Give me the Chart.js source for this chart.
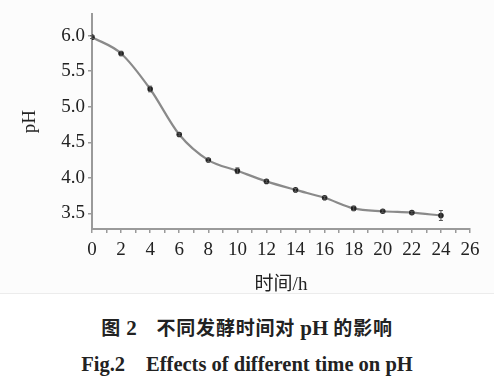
<!DOCTYPE html>
<html><head><meta charset="utf-8">
<script src="https://cdn.jsdelivr.net/npm/chart.js@4.4.1/dist/chart.umd.min.js"></script>
<style>
html,body{margin:0;padding:0;background:#fff;}
#wrap{position:relative;width:494px;height:378px;overflow:hidden;}
#top{position:absolute;left:0;top:0;width:494px;height:293px;background:#fcfcfc;border-bottom:1px solid #ececec;}
#c{position:absolute;left:0;top:0;}
.cap{position:absolute;left:0;width:494px;text-align:center;color:#222;font-weight:bold;white-space:pre;}
#cap1{top:313px;font-size:19px;letter-spacing:0.8px;font-family:"Noto Sans CJK SC","Liberation Serif",serif;}
#cap1 .l{font-family:"Liberation Serif",serif;font-size:21px;letter-spacing:0;}
#cap2{top:350px;font-size:20.5px;font-family:"Liberation Serif",serif;}
</style></head>
<body><div id="wrap"><div id="top"></div><canvas id="c" width="494" height="300"></canvas>
<div id="cap1" class="cap">图 <span class="l">2</span>　不同发酵时间对 <span class="l">pH</span> 的影响</div>
<div id="cap2" class="cap">Fig.2　Effects of different time on pH</div>
</div>
<script>
const timeH = [0, 2, 4, 6, 8, 10, 12, 14, 16, 18, 20, 22, 24];
const phValues = [5.98, 5.75, 5.25, 4.61, 4.25, 4.10, 3.95, 3.83, 3.72, 3.57, 3.53, 3.51, 3.47];
const phErrors = [0.02, 0.03, 0.04, 0.02, 0.02, 0.04, 0.02, 0.02, 0.02, 0.03, 0.02, 0.02, 0.07];
const yTickValues = [3.5, 4.0, 4.5, 5.0, 5.5, 6.0];
const xLabelValues = [0,2,4,6,8,10,12,14,16,18,20,22,24,26];
const xTitle = '时间/h';
const yTitle = 'pH';

const serif = '"Liberation Serif", "Times New Roman", serif';

const errorBars = {
  id: 'errorBars',
  afterDatasetsDraw(chart) {
    const ctx = chart.ctx, xs = chart.scales.x, ys = chart.scales.y;
    ctx.save();
    ctx.strokeStyle = '#555';
    ctx.lineWidth = 1;
    timeH.forEach((t, i) => {
      const px = xs.getPixelForValue(t);
      const y1 = ys.getPixelForValue(phValues[i] + phErrors[i]);
      const y2 = ys.getPixelForValue(phValues[i] - phErrors[i]);
      ctx.beginPath();
      ctx.moveTo(px, y1); ctx.lineTo(px, y2);
      ctx.moveTo(px - 2, y1); ctx.lineTo(px + 2, y1);
      ctx.moveTo(px - 2, y2); ctx.lineTo(px + 2, y2);
      ctx.stroke();
    });
    ctx.restore();
  }
};

new Chart(document.getElementById('c'), {
  type: 'line',
  data: {
    datasets: [{
      data: timeH.map((t, i) => ({x: t, y: phValues[i]})),
      borderColor: '#8a8a8a',
      borderWidth: 2.2,
      cubicInterpolationMode: 'monotone',
      pointRadius: 2.8,
      pointBackgroundColor: '#222',
      pointBorderColor: '#222',
      pointBorderWidth: 0,
      fill: false
    }]
  },
  options: {
    responsive: false,
    animation: false,
    devicePixelRatio: 1,
    layout: {padding: {top: 8, right: 24, left: 0, bottom: 0}},
    plugins: {legend: {display: false}, tooltip: {enabled: false}},
    scales: {
      x: {
        type: 'linear', min: 0, max: 26,
        afterBuildTicks: s => { s.ticks = Array.from({length: 27}, (_, i) => ({value: i})); },
        afterFit: s => { s.height = 71; },
        ticks: {
          autoSkip: false, maxRotation: 0, padding: 6, color: '#222',
          font: {family: serif, size: 19},
          callback: v => xLabelValues.includes(v) ? String(v) : ''
        },
        grid: {drawOnChartArea: false, drawTicks: true, tickLength: 4, color: '#9a9a9a', lineWidth: 1.5},
        border: {color: '#9a9a9a', width: 2},
        title: {display: true, text: xTitle, color: '#222', padding: {top: 0}, font: {family: '"Liberation Serif", "Noto Sans CJK SC", serif', size: 19}}
      },
      y: {
        type: 'linear', min: 3.28, max: 6.3,
        afterBuildTicks: s => { s.ticks = yTickValues.map(v => ({value: v})); },
        afterFit: s => { s.width = 92; },
        ticks: {
          padding: 3, color: '#222', font: {family: serif, size: 19},
          callback: v => v.toFixed(1)
        },
        grid: {drawOnChartArea: false, drawTicks: true, tickLength: 4, color: '#9a9a9a', lineWidth: 1.5},
        border: {color: '#9a9a9a', width: 2},
        title: {display: true, text: yTitle, color: '#222', padding: {top: 19, bottom: 0}, font: {family: serif, size: 19}}
      }
    }
  },
  plugins: [errorBars]
});
</script>
</body></html>
